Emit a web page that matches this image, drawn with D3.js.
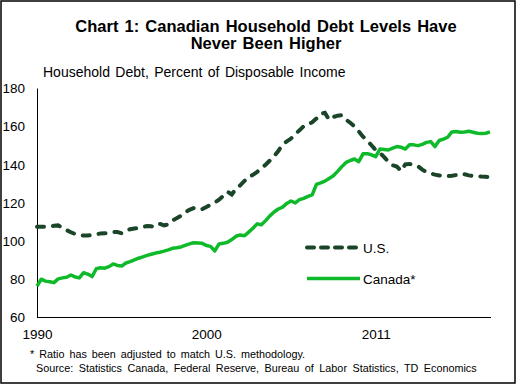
<!DOCTYPE html>
<html>
<head>
<meta charset="utf-8">
<script src="https://cdn.jsdelivr.net/npm/d3@7"></script>
<style>
  body { margin: 0; background: #fff; }
  svg text { font-family: "Liberation Sans", Arial, sans-serif; fill: #000; }
  .axis path { stroke: #000; stroke-width: 1; }
  .axis text { font-size: 13.5px; }
</style>
</head>
<body>
<svg width="517" height="386"></svg>
<script>
// quarterly, 1990Q1 .. 2016Q4
const canada = [
  76.2, 79.8, 78.8, 78.5, 78.0, 80.0, 80.5, 80.8, 82.0, 81.0,
  80.5, 83.2, 82.5, 81.2, 85.3, 85.8, 85.6, 86.4, 87.8, 87.0,
  86.7, 88.3, 89.0, 89.9, 90.8, 91.5, 92.3, 92.9, 93.5, 93.9,
  94.5, 95.2, 96.0, 96.3, 96.7, 97.5, 98.3, 98.9, 98.8, 98.6,
  97.5, 97.0, 94.6, 98.3, 98.6, 99.2, 100.6, 102.3, 103.0, 102.6,
  104.5, 106.5, 108.8, 108.3, 110.5, 113.0, 115.0, 116.6, 117.6, 119.5,
  120.8, 119.8, 121.5, 122.2, 123.2, 124.0, 129.5, 130.3, 131.2, 132.6,
  134.0, 136.3, 138.8, 141.0, 142.0, 142.8, 141.4, 145.5, 145.6, 145.0,
  144.0, 148.0, 147.8, 147.5, 148.5, 149.3, 149.0, 148.0, 150.3, 150.2,
  149.8, 150.5, 151.5, 151.9, 149.3, 152.5, 153.2, 154.2, 157.0, 157.2,
  156.8, 157.0, 157.3, 156.8, 156.3, 156.1, 156.3, 157.0
];
const us = [
  107.3, 107.3, 107.3, 107.5, 107.8, 108.0, 106.8, 105.5, 104.4, 103.5,
  103.0, 102.7, 102.7, 102.9, 103.3, 103.8, 103.9, 104.0, 104.5, 104.5,
  103.9, 105.3, 106.0, 106.4, 106.7, 107.2, 107.7, 107.5, 107.3, 108.8,
  108.0, 108.5, 110.5, 111.8, 113.0, 114.8, 116.2, 117.0, 116.3, 116.5,
  117.6, 118.8, 120.0, 121.5, 123.5, 125.7, 124.2, 127.2, 129.0, 131.3,
  133.5, 134.5, 136.0, 138.0, 139.8, 142.0, 144.3, 147.0, 150.5, 152.0,
  153.5, 156.0, 157.8, 160.0, 161.2, 162.0, 164.0, 166.5, 167.0, 163.3,
  164.8, 165.5, 165.7, 163.3, 161.8, 159.8, 157.3, 154.5, 152.5, 150.0,
  147.5, 146.0, 143.8, 141.4, 139.5, 138.8, 136.5, 140.0, 140.2, 139.8,
  139.0, 137.2, 136.0, 135.2, 134.6, 134.2, 134.0, 133.8, 134.0, 134.4,
  135.0, 134.8, 134.2, 133.9, 133.8, 133.6, 133.5, 133.2
];
const xTickIndex = [0, 40, 80];
const xTickLabels = ["1990", "2000", "2011"];
const yTicks = [60, 80, 100, 120, 140, 160, 180];

const svg = d3.select("svg");

svg.append("rect")
   .attr("x", 1).attr("y", 1)
   .attr("width", 514).attr("height", 382)
   .attr("fill", "none")
   .attr("stroke", "#000")
   .attr("stroke-width", 1.5);

const x = d3.scaleLinear().domain([0, canada.length - 1]).range([37, 490]);
const y = d3.scaleLinear().domain([60, 180]).range([317, 88]);

svg.append("g")
   .attr("class", "axis")
   .attr("transform", "translate(37,0)")
   .call(d3.axisLeft(y).tickValues(yTicks).tickSize(0).tickPadding(12))
   .call(g => g.selectAll("text").attr("dy", "0.35em"));

svg.append("g")
   .attr("class", "axis")
   .attr("transform", "translate(0,317)")
   .call(d3.axisBottom(x)
       .tickValues(xTickIndex)
       .tickFormat((d, i) => xTickLabels[i])
       .tickSize(0)
       .tickPadding(12))
   .call(g => g.select(".domain").attr("d", "M37,0.5H491"));

const line = d3.line()
    .x((d, i) => x(i))
    .y(d => y(d));

svg.append("path")
   .datum(canada)
   .attr("d", line)
   .attr("fill", "none")
   .attr("stroke", "#0fba2a")
   .attr("stroke-width", 3.5)
   .attr("stroke-linejoin", "round");

svg.append("path")
   .datum(us)
   .attr("d", line)
   .attr("fill", "none")
   .attr("stroke", "#1a4529")
   .attr("stroke-width", 4)
   .attr("stroke-linecap", "round")
   .attr("stroke-dasharray", "7,9");

// legend
const legend = [
    { name: "U.S.", color: "#1a4529", dash: "7,7", w: 4, cap: "round", y: 247.5 },
    { name: "Canada*", color: "#0fba2a", dash: null, w: 3.5, cap: "butt", y: 278.5 }
];
const lg = svg.append("g").selectAll("g").data(legend).join("g");
lg.append("line")
  .attr("x1", 307).attr("x2", 360)
  .attr("y1", d => d.y).attr("y2", d => d.y)
  .attr("stroke", d => d.color)
  .attr("stroke-width", d => d.w)
  .attr("stroke-linecap", d => d.cap)
  .attr("stroke-dasharray", d => d.dash);
lg.append("text")
  .attr("x", 363).attr("y", d => d.y + 5)
  .attr("font-size", 13.5)
  .text(d => d.name);

// titles
svg.append("text")
   .attr("x", 266).attr("y", 32)
   .attr("text-anchor", "middle")
   .attr("font-size", 16.5)
   .attr("font-weight", "bold")
   .attr("word-spacing", 1.5)
   .text("Chart 1: Canadian Household Debt Levels Have");
svg.append("text")
   .attr("x", 266).attr("y", 49)
   .attr("text-anchor", "middle")
   .attr("font-size", 16.5)
   .attr("font-weight", "bold")
   .attr("word-spacing", 1.5)
   .text("Never Been Higher");
svg.append("text")
   .attr("x", 43).attr("y", 77)
   .attr("font-size", 14)
   .attr("word-spacing", 1.5)
   .text("Household Debt, Percent of Disposable Income");

svg.append("text")
   .attr("x", 30).attr("y", 358)
   .attr("font-size", 10.8)
   .attr("word-spacing", 2)
   .text("* Ratio has been adjusted to match U.S. methodology.");
svg.append("text")
   .attr("x", 36).attr("y", 372)
   .attr("font-size", 10.8)
   .attr("word-spacing", 2.5)
   .text("Source: Statistics Canada, Federal Reserve, Bureau of Labor Statistics, TD Economics");
</script>
</body>
</html>
